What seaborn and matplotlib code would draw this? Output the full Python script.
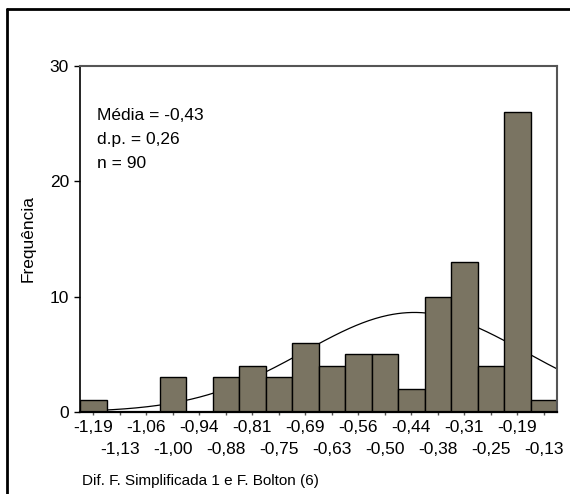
import numpy as np
import pandas as pd
import matplotlib
matplotlib.use("Agg")
import matplotlib.pyplot as plt
import seaborn as sns
from matplotlib.lines import Line2D
from matplotlib import font_manager

# ---- data ----
bin_centers = [-1.1875, -1.125, -1.0625, -1.0, -0.9375, -0.875, -0.8125, -0.75, -0.6875,
               -0.625, -0.5625, -0.5, -0.4375, -0.375, -0.3125, -0.25, -0.1875, -0.125]
counts = [1, 0, 0, 3, 0, 3, 4, 3, 6, 4, 5, 5, 2, 10, 13, 4, 26, 1]
x_tick_labels = ["-1,19", "-1,13", "-1,06", "-1,00", "-0,94", "-0,88", "-0,81", "-0,75", "-0,69",
                 "-0,63", "-0,56", "-0,50", "-0,44", "-0,38", "-0,31", "-0,25", "-0,19", "-0,13"]
y_ticks = [0, 10, 20, 30]
mean_val = -0.43
sd_val = 0.26
n_val = 90
bin_width = 0.0625
stats_text = "Média = -0,43\nd.p. = 0,26\nn = 90"
x_label = "Dif. F. Simplificada 1 e F. Bolton (6)"
y_label = "Frequência"

sns.set_theme(style="white")
names = {f.name for f in font_manager.fontManager.ttflist}
fam = [f for f in ["Liberation Sans Narrow", "Liberation Sans", "DejaVu Sans"] if f in names]
plt.rcParams['font.family'] = fam
for k in ["text.color", "axes.labelcolor", "xtick.color", "ytick.color"]:
    plt.rcParams[k] = "black"

df = pd.DataFrame({"x": bin_centers, "w": counts})
edges = [bin_centers[0] - bin_width / 2 + i * bin_width for i in range(len(bin_centers) + 1)]

fig = plt.figure(figsize=(5.7, 4.94), dpi=100)
ax = fig.add_axes([80 / 570, 82 / 494, 477 / 570, 346 / 494])

sns.histplot(data=df, x="x", weights="w", bins=edges, ax=ax, color="#7a7462",
             edgecolor="black", linewidth=1.0, alpha=1, zorder=2)

xs = np.linspace(edges[0], edges[-1], 300)
ys = n_val * bin_width * np.exp(-0.5 * ((xs - mean_val) / sd_val) ** 2) / (sd_val * np.sqrt(2 * np.pi))
sns.lineplot(x=xs, y=ys, ax=ax, color="black", linewidth=0.9, zorder=1)

ax.set_xlim(edges[0], edges[-1])
ax.set_ylim(0, 30)
ax.set_yticks(y_ticks)
ax.set_yticklabels([str(v) for v in y_ticks], fontsize=12.5)
ax.set_xticks(bin_centers[::2])
ax.set_xticklabels(x_tick_labels[::2], fontsize=12.5)
ax.set_xticks(bin_centers[1::2], minor=True)
ax.set_xticklabels(x_tick_labels[1::2], minor=True, fontsize=12.5)
ax.tick_params(axis="x", which="major", direction="out", length=2, width=1, color="#555555", pad=3.5, bottom=True)
ax.tick_params(axis="x", which="minor", direction="out", length=2, width=1, color="#555555", pad=19.5, bottom=True)
ax.tick_params(axis="y", direction="out", length=4, width=1, color="black", pad=4, left=True)

ax.set_xlabel("")
ax.set_ylabel(y_label, fontsize=12.5, labelpad=10)
fig.text(82 / 570, 1 - 485 / 494, x_label, fontsize=11, ha="left", va="baseline")

ax.text(0.036, 0.878, stats_text, transform=ax.transAxes, fontsize=12.5, ha="left", va="top",
        linespacing=1.75)

for s in ["top", "right"]:
    ax.spines[s].set_color("#555555")
    ax.spines[s].set_linewidth(1.5)
ax.spines["left"].set_color("black")
ax.spines["left"].set_linewidth(1.2)
ax.spines["bottom"].set_color("black")
ax.spines["bottom"].set_linewidth(1.6)

fig.add_artist(Line2D([7 / 570, 7 / 570], [1 - 9 / 494, 0], color="black", linewidth=2, transform=fig.transFigure))
fig.add_artist(Line2D([7 / 570, 1], [1 - 9 / 494, 1 - 9 / 494], color="black", linewidth=2, transform=fig.transFigure))

fig.savefig("out.png", dpi=100)
